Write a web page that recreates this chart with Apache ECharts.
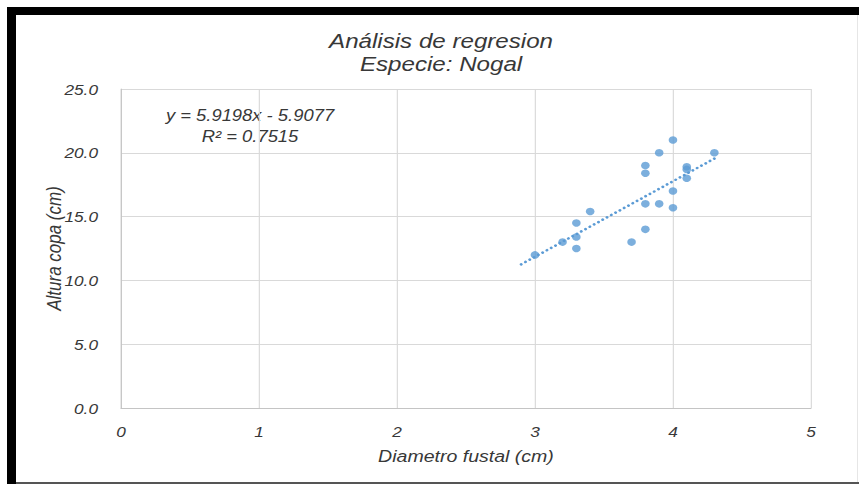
<!DOCTYPE html>
<html>
<head>
<meta charset="utf-8">
<script src="https://cdn.jsdelivr.net/npm/echarts@6/dist/echarts.min.js"></script>
<style>
  html, body { margin: 0; padding: 0; background: #ffffff; }
  #wrap { position: relative; width: 859px; height: 484px; overflow: hidden; background: #fff; }
  /* the chart is laid out a bit narrower and widened horizontally */
  #chart { position: absolute; left: 0; top: 0; width: 747px; height: 484px;
           transform: scaleX(1.15); transform-origin: 0 0; }
  .bar { position: absolute; }
</style>
</head>
<body>
<div id="wrap">
  <div id="chart"></div>
  <div class="bar" style="left:7px;top:7px;width:852px;height:8px;background:#000;"></div>
  <div class="bar" style="left:7px;top:7px;width:9px;height:477px;background:#000;"></div>
  <div class="bar" style="left:16px;top:482px;width:843px;height:2px;background:#555;"></div>
  <div class="bar" style="left:857px;top:15px;width:1px;height:467px;background:#e6e6e6;"></div>
</div>
<script>
// Diameter of the trunk (cm) and crown height (cm) for each walnut tree
const diametro = [3.0, 3.2, 3.3, 3.3, 3.3, 3.4, 3.7, 3.8, 3.8, 3.8, 3.8, 3.9, 3.9, 4.0, 4.0, 4.0, 4.1, 4.1, 4.1, 4.3];
const altura   = [12.0, 13.0, 14.5, 13.4, 12.5, 15.4, 13.0, 19.0, 18.4, 16.0, 14.0, 20.0, 16.0, 21.0, 17.0, 15.7, 18.9, 18.7, 18.0, 20.0];

// Linear trendline y = a·x + b and its fit
const pendiente = 5.9198;
const intercepto = -5.9077;
const r2 = 0.7515;
const tendenciaDesde = 2.9;
const tendenciaHasta = 4.3;

// Axis ranges
const xMin = 0, xMax = 5, xPaso = 1;
const yMin = 0, yMax = 25, yPaso = 5;

const titulo = 'Análisis de regresion\nEspecie: Nogal';
const nombreX = 'Diametro fustal (cm)';
const nombreY = 'Altura copa (cm)';

const puntos = diametro.map((d, i) => [d, altura[i]]);
const tendencia = [tendenciaDesde, tendenciaHasta].map(x => [x, pendiente * x + intercepto]);
const fmt = (v, n) => v.toFixed(n);
const ecuacion = 'y = ' + pendiente.toFixed(4) + 'x - ' + Math.abs(intercepto).toFixed(4) +
                 '\nR² = ' + r2.toFixed(4);

const FONT = '"Liberation Sans", Arial, sans-serif';
const azul = '#5b9bd5';
const texto = '#383838';

const chart = echarts.init(document.getElementById('chart'), null, { renderer: 'svg' });
chart.setOption({
  animation: false,
  backgroundColor: '#ffffff',
  title: {
    text: titulo,
    left: 383.5,
    top: 30,
    padding: 0,
    textAlign: 'center',
    textStyle: { fontFamily: FONT, fontSize: 21, lineHeight: 23, fontStyle: 'italic',
                 fontWeight: 'normal', color: texto }
  },
  grid: { left: 105.2, width: 600, top: 89, bottom: 76, containLabel: false },
  xAxis: {
    type: 'value', min: xMin, max: xMax, interval: xPaso,
    name: nombreX, nameLocation: 'middle', nameGap: 39, nameMoveOverlap: false,
    nameTextStyle: { fontFamily: FONT, fontSize: 17, fontStyle: 'italic', color: texto },
    axisLine: { show: true, lineStyle: { color: '#c4c4c4', width: 1 } },
    axisTick: { show: false },
    axisLabel: { fontFamily: FONT, fontSize: 15, fontStyle: 'italic', color: texto, margin: 16,
                 formatter: v => fmt(v, 0) },
    splitLine: { show: true, lineStyle: { color: '#d9d9d9', width: 1 } }
  },
  yAxis: {
    type: 'value', min: yMin, max: yMax, interval: yPaso,
    name: nombreY, nameLocation: 'middle', nameGap: 50, nameRotate: 90, nameMoveOverlap: false,
    nameTextStyle: { fontFamily: FONT, fontSize: 17, fontStyle: 'italic', color: texto },
    axisLine: { show: true, lineStyle: { color: '#c4c4c4', width: 1 } },
    axisTick: { show: false },
    axisLabel: { fontFamily: FONT, fontSize: 15, fontStyle: 'italic', color: texto, margin: 20,
                 formatter: v => fmt(v, 1) },
    splitLine: { show: true, lineStyle: { color: '#d9d9d9', width: 1 } }
  },
  graphic: [{
    type: 'text',
    x: 217.4, y: 105,
    style: {
      text: ecuacion,
      textAlign: 'center', textVerticalAlign: 'top',
      fontFamily: FONT, fontSize: 16, fontStyle: 'italic', lineHeight: 21,
      fill: texto
    }
  }],
  series: [
    {
      type: 'line',
      data: tendencia,
      symbol: 'none',
      lineStyle: { color: azul, width: 2.6, type: [0.01, 4.4], cap: 'round' },
      z: 2
    },
    {
      type: 'scatter',
      data: puntos,
      symbol: 'circle',
      symbolSize: 7.5,
      itemStyle: { color: azul },
      z: 3
    }
  ]
});
</script>
</body>
</html>
